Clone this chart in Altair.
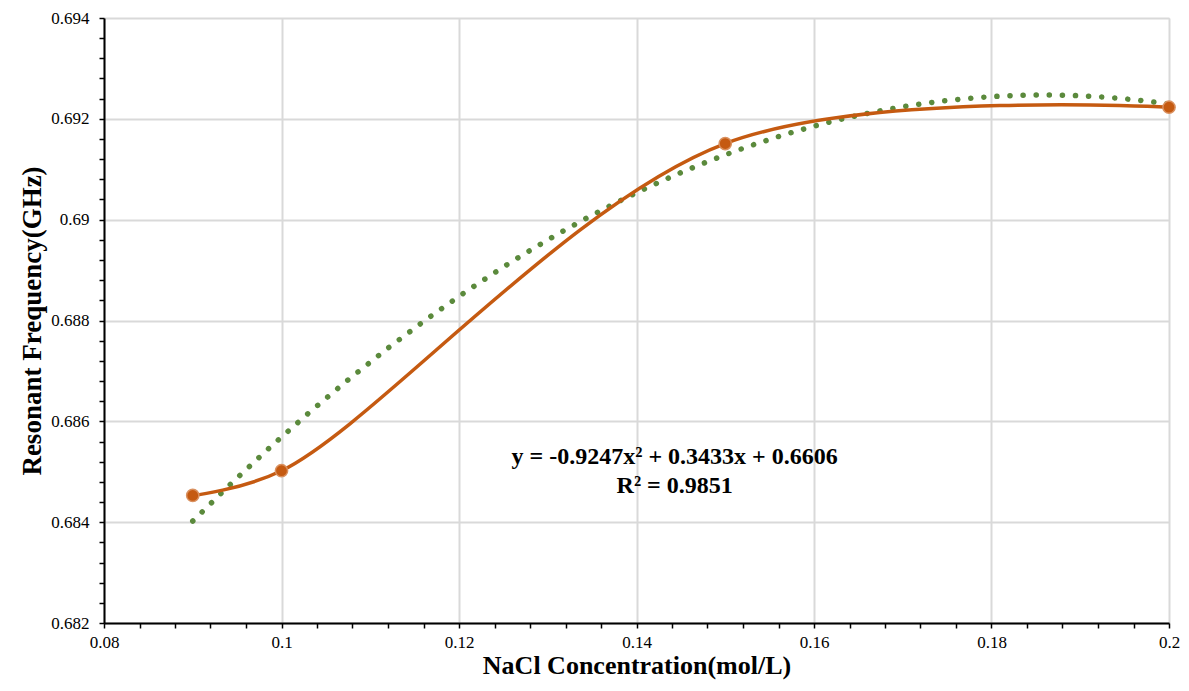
import altair as alt
import pandas as pd

conc = [0.09, 0.10, 0.15, 0.20]
freq = [0.68453, 0.68502, 0.69151, 0.69223]

# Axis ticks (major + minor)
x_ticks = [0.080, 0.084, 0.088, 0.092, 0.096, 0.100, 0.104, 0.108, 0.112, 0.116,
           0.120, 0.124, 0.128, 0.132, 0.136, 0.140, 0.144, 0.148, 0.152, 0.156,
           0.160, 0.164, 0.168, 0.172, 0.176, 0.180, 0.184, 0.188, 0.192, 0.196, 0.200]
y_ticks = [0.6820, 0.6824, 0.6828, 0.6832, 0.6836, 0.6840, 0.6844, 0.6848, 0.6852,
           0.6856, 0.6860, 0.6864, 0.6868, 0.6872, 0.6876, 0.6880, 0.6884, 0.6888,
           0.6892, 0.6896, 0.6900, 0.6904, 0.6908, 0.6912, 0.6916, 0.6920, 0.6924,
           0.6928, 0.6932, 0.6936, 0.6940]

# Annotation (equation of the trendline)
eq_text = ["y = -0.9247x² + 0.3433x + 0.6606", "R² = 0.9851"]
eq_x = [0.1443, 0.1443]
eq_y = [0.68530, 0.68472]

df = pd.DataFrame({"x": conc, "y": freq})
df_eq = pd.DataFrame({"x": eq_x, "y": eq_y, "t": eq_text})

FONT = "Liberation Serif"
ORANGE = "#C55A11"
GREEN = "#5B8A3C"

x_major = "abs(datum.value*50 - round(datum.value*50)) < 0.01"
y_major = "abs(datum.value*500 - round(datum.value*500)) < 0.01"

x_scale = alt.Scale(domain=[0.08, 0.2], nice=False, zero=False)
y_scale = alt.Scale(domain=[0.682, 0.694], nice=False, zero=False)

x_axis = alt.Axis(
    title="NaCl Concentration(mol/L)",
    values=x_ticks, tickCount=len(x_ticks),
    labelExpr=f"({x_major}) ? toString(round(datum.value*100)/100) : ''",
    gridOpacity={"condition": {"test": x_major, "value": 1}, "value": 0},
    gridColor="#D9D9D9", gridWidth=2,
    domainColor="black", domainWidth=2,
    tickColor="black", tickWidth=1.5, tickSize=5,
    labelFont=FONT, labelFontSize=17, labelColor="black", labelPadding=6,
    titleFont=FONT, titleFontSize=26, titleFontWeight="bold", titleColor="black",
    titlePadding=2, labelFlush=False, labelOverlap=False,
)
y_axis = alt.Axis(
    title="Resonant Frequency(GHz)",
    values=y_ticks, tickCount=len(y_ticks),
    labelExpr=f"({y_major}) ? toString(round(datum.value*1000)/1000) : ''",
    gridOpacity={"condition": {"test": y_major, "value": 1}, "value": 0},
    gridColor="#D9D9D9", gridWidth=2,
    domainColor="black", domainWidth=2,
    tickColor="black", tickWidth=1.5, tickSize=5,
    labelFont=FONT, labelFontSize=17, labelColor="black", labelPadding=10,
    titleFont=FONT, titleFontSize=27, titleFontWeight="bold", titleColor="black",
    titlePadding=4, labelFlush=False, labelOverlap=False,
)

base = alt.Chart(df)

trend = base.transform_regression(
    "x", "y", method="poly", order=2, extent=[0.09, 0.2]
).mark_line(
    color=GREEN, strokeWidth=5.5, strokeDash=[0.1, 13], strokeCap="round"
).encode(
    x=alt.X("x:Q", scale=x_scale, axis=x_axis),
    y=alt.Y("y:Q", scale=y_scale, axis=y_axis),
)

curve = base.mark_line(color=ORANGE, strokeWidth=3.5, interpolate="catmull-rom").encode(
    x=alt.X("x:Q", scale=x_scale),
    y=alt.Y("y:Q", scale=y_scale),
)

points = base.mark_point(
    filled=True, size=150, color=ORANGE, stroke="#D9905F", strokeWidth=1.5, opacity=1
).encode(
    x=alt.X("x:Q", scale=x_scale),
    y=alt.Y("y:Q", scale=y_scale),
)

eq = alt.Chart(df_eq).mark_text(
    font=FONT, fontSize=24, fontWeight="bold", color="black", baseline="middle", align="center"
).encode(
    x=alt.X("x:Q", scale=x_scale),
    y=alt.Y("y:Q", scale=y_scale),
    text="t:N",
)

chart = alt.layer(trend, curve, points, eq).properties(
    width=1065, height=605,
    autosize=alt.AutoSizeParams(type="none"),
    padding={"left": 96, "top": 10, "right": 12, "bottom": 60},
).configure_view(stroke=None).configure(background="white")

chart.save("out.html", embed_options={"renderer": "svg", "actions": False})
